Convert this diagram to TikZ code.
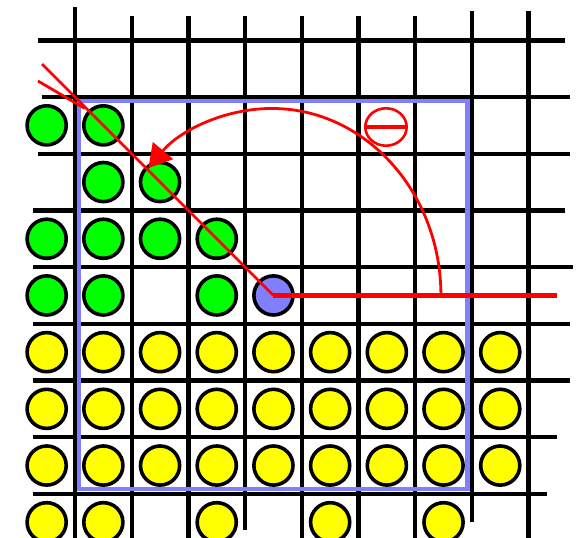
\documentclass[tikz,border=0pt]{standalone}
\usepackage{tikz}
\usetikzlibrary{arrows.meta,shapes.geometric}
\definecolor{ballgreen}{RGB}{0,255,0}
\definecolor{ballyellow}{RGB}{255,255,0}
\definecolor{periwinkle}{RGB}{128,128,255}
\definecolor{markred}{RGB}{255,0,0}
\tikzset{
  ball/.style={circle,draw=black,line width=1.8pt,minimum size=0.69cm,inner sep=0pt},
  gball/.style={ball,fill=ballgreen},
  yball/.style={ball,fill=ballyellow},
  pball/.style={ball,fill=periwinkle},
  gridline/.style={draw=black,line width=2.2pt},
  frame/.style={draw=periwinkle,line width=2.3pt},
  redline/.style={draw=markred,line width=1.4pt},
  axisline/.style={draw=markred,line width=2.2pt},
  signmark/.style={ellipse,draw=markred,line width=1.3pt,minimum width=0.73cm,minimum height=0.66cm,inner sep=0pt}
}
\begin{document}
\begin{tikzpicture}
  \useasboundingbox (-1.323,-7.778) rectangle (8.907,1.711);
  \foreach \x/\top/\bot in {0/1.587/-7.778,1/1.429/-7.778,2/1.429/-7.778,3/1.429/-7.637,4/1.429/-7.778,5/1.429/-7.778,6/1.429/-7.778,7/1.517/-7.496,8/1.517/-7.778}
    \draw[gridline] (\x,\top)--(\x,\bot);
  \foreach \y/\lft/\rgt in {1/-0.653/8.642,0/-0.582/8.730,-1/-0.653/8.730,-2/-0.741/8.642,-3/-0.741/8.783,-4/-0.741/8.730,-5/-0.741/8.730,-6/-0.741/8.501,-7/-0.741/8.325}
    \draw[gridline] (\lft,\y)--(\rgt,\y);
  \foreach \x/\y [count=\i] in {-0.5/-0.5,0.5/-0.5,0.5/-1.5,1.5/-1.5,-0.5/-2.5,0.5/-2.5,1.5/-2.5,2.5/-2.5,-0.5/-3.5,0.5/-3.5,2.5/-3.5}
    \node[gball] (g\i) at (\x,\y) {};
  \node[pball] (pivot) at (3.5,-3.5) {};
  \foreach \y [count=\r] in {-4.5,-5.5,-6.5}
    \foreach \x [count=\c] in {-0.5,0.5,...,7.5}
      \node[yball] (y\r-\c) at (\x,\y) {};
  \foreach \x [count=\c] in {-0.5,0.5,2.5,4.5,6.5}
    \node[yball] (y4-\c) at (\x,-7.5) {};
  \draw[frame] (0.071,-0.071) rectangle (6.922,-6.914);
  \coordinate (rayend) at (-0.582,0.582);
  \coordinate (barbstart) at (-0.653,0.282);
  \coordinate (barbend) at (0.17,-0.2);
  \coordinate (axisend) at (8.5,-3.5);
  \coordinate (arcstart) at (6.454,-3.5);
  \draw[axisline] (pivot.center)--(axisend);
  \draw[redline] (pivot.center)--(rayend);
  \draw[redline] (barbstart)--(barbend);
  \draw[redline,-{Triangle[length=0.4cm,width=0.46cm]}] (arcstart) arc[start angle=0,end angle=137,x radius=2.98,y radius=3.298];
  \node[signmark] (sign) at (5.485,-0.529) {};
  \draw[redline,line width=1.6pt] (sign.west)--(sign.east);
\end{tikzpicture}
\end{document}
